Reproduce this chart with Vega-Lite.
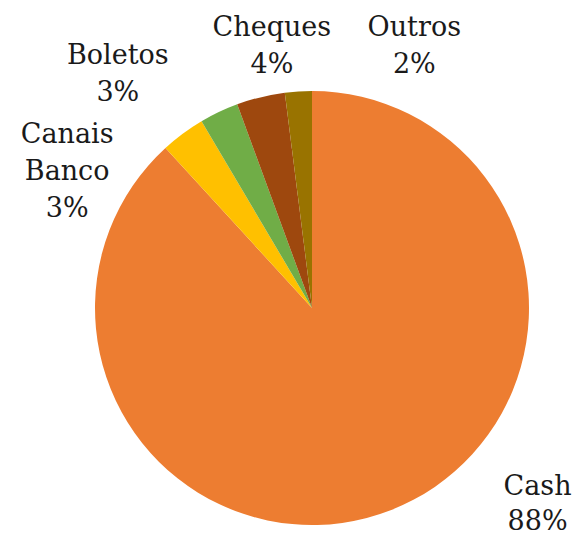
{
  "$schema": "https://vega.github.io/schema/vega-lite/v6.json",
  "autosize": {"type": "none"},
  "width": 536,
  "height": 464,
  "padding": {"left": 44, "top": 76, "right": 0, "bottom": 0},
  "background": "white",
  "config": {"view": {"stroke": null}},
  "data": {
    "values": [
      {"ord": 1, "cat": "Cash", "value": 88.2, "label": ["Cash", "88%"]},
      {"ord": 2, "cat": "Canais Banco", "value": 3.3, "label": ["Canais", "Banco", "3%"]},
      {"ord": 3, "cat": "Boletos", "value": 2.9, "label": ["Boletos", "3%"]},
      {"ord": 4, "cat": "Cheques", "value": 3.6, "label": ["Cheques", "4%"]},
      {"ord": 5, "cat": "Outros", "value": 2.0, "label": ["Outros", "2%"]}
    ]
  },
  "encoding": {
    "theta": {"field": "value", "type": "quantitative", "stack": true},
    "order": {"field": "ord", "type": "quantitative"}
  },
  "layer": [
    {
      "mark": {"type": "arc", "radius": 217},
      "encoding": {
        "color": {
          "field": "cat",
          "type": "nominal",
          "scale": {
            "domain": ["Cash", "Canais Banco", "Boletos", "Cheques", "Outros"],
            "range": ["#ED7D31", "#FFC000", "#70AD47", "#9E480E", "#997300"]
          },
          "legend": null
        }
      }
    },
    {
      "mark": {"type": "text", "radius": 250, "dx": 135, "dy": -54, "font": "DejaVu Serif", "fontSize": 27, "lineHeight": 35, "color": "#1a1a1a", "align": "center", "baseline": "middle"},
      "encoding": {
        "detail": {"field": "cat"},
        "text": {"condition": {"test": "datum.cat === 'Cash'", "field": "label"}, "value": ""}
      }
    },
    {
      "mark": {"type": "text", "radius": 250, "dx": -96, "dy": 28, "font": "DejaVu Serif", "fontSize": 27, "lineHeight": 37, "color": "#1a1a1a", "align": "center", "baseline": "middle"},
      "encoding": {
        "detail": {"field": "cat"},
        "text": {"condition": {"test": "datum.cat === 'Canais Banco'", "field": "label"}, "value": ""}
      }
    },
    {
      "mark": {"type": "text", "radius": 250, "dx": -87, "dy": -26, "font": "DejaVu Serif", "fontSize": 27, "lineHeight": 37, "color": "#1a1a1a", "align": "center", "baseline": "middle"},
      "encoding": {
        "detail": {"field": "cat"},
        "text": {"condition": {"test": "datum.cat === 'Boletos'", "field": "label"}, "value": ""}
      }
    },
    {
      "mark": {"type": "text", "radius": 250, "dx": 19, "dy": -37, "font": "DejaVu Serif", "fontSize": 27, "lineHeight": 37, "color": "#1a1a1a", "align": "center", "baseline": "middle"},
      "encoding": {
        "detail": {"field": "cat"},
        "text": {"condition": {"test": "datum.cat === 'Cheques'", "field": "label"}, "value": ""}
      }
    },
    {
      "mark": {"type": "text", "radius": 250, "dx": 118, "dy": -30, "font": "DejaVu Serif", "fontSize": 27, "lineHeight": 37, "color": "#1a1a1a", "align": "center", "baseline": "middle"},
      "encoding": {
        "detail": {"field": "cat"},
        "text": {"condition": {"test": "datum.cat === 'Outros'", "field": "label"}, "value": ""}
      }
    }
  ]
}
